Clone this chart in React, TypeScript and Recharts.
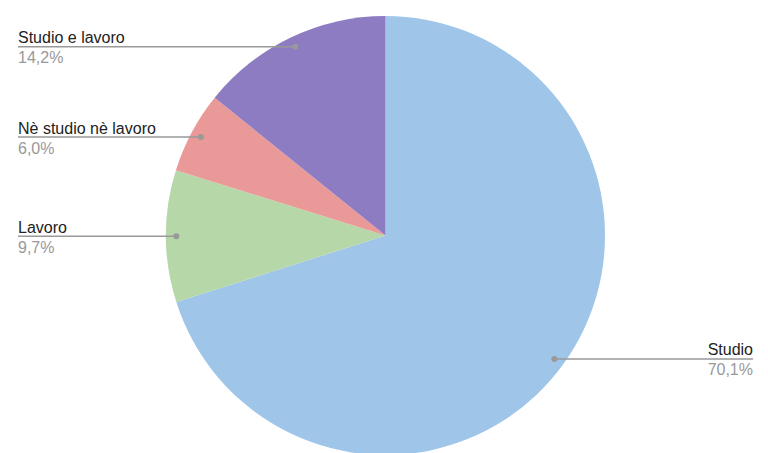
import React from "react";
import { PieChart, Pie, Cell } from "recharts";

const categories = ["Studio", "Lavoro", "Nè studio nè lavoro", "Studio e lavoro"];
const values = [70.1, 9.7, 6.0, 14.2];
const colors = ["#9fc5e8", "#b6d7a8", "#ea9999", "#8e7cc3"];

const data = categories.map((name, i) => ({ name, value: values[i] }));

const RAD = Math.PI / 180;

const renderLabel = (props: any) => {
  const { cx, cy, midAngle, outerRadius, name, value } = props;
  const r = outerRadius * 0.953;
  const x = cx + r * Math.cos(-midAngle * RAD);
  const y = cy + r * Math.sin(-midAngle * RAD);
  const right = x > cx;
  const endX = right ? 753 : 18;
  const pct = value.toFixed(1).replace(".", ",") + "%";
  return (
    <g>
      <line x1={x} y1={y} x2={endX} y2={y} stroke="#999" strokeWidth={1.5} />
      <circle cx={x} cy={y} r={3} fill="#999" />
      <text
        x={endX}
        y={y - 3.5}
        textAnchor={right ? "end" : "start"}
        fontFamily="'Liberation Sans', Arial, sans-serif"
        fontSize={16}
        fill="#222"
      >
        {name}
      </text>
      <text
        x={endX}
        y={y + 16.5}
        textAnchor={right ? "end" : "start"}
        fontFamily="'Liberation Sans', Arial, sans-serif"
        fontSize={16}
        fill="#999"
      >
        {pct}
      </text>
    </g>
  );
};

export default function App() {
  return (
    <div style={{ position: "absolute", left: 0, top: 0, width: 768, height: 453, background: "#fff" }}>
      <PieChart width={768} height={453} margin={{ top: 0, right: 0, bottom: 0, left: 0 }}>
        <Pie
          data={data}
          dataKey="value"
          nameKey="name"
          cx={385.5}
          cy={235.5}
          outerRadius={219.5}
          startAngle={90}
          endAngle={-270}
          stroke="none"
          label={renderLabel}
          labelLine={false}
          isAnimationActive={false}
        >
          {data.map((d, i) => (
            <Cell key={d.name} fill={colors[i]} />
          ))}
        </Pie>
      </PieChart>
    </div>
  );
}
